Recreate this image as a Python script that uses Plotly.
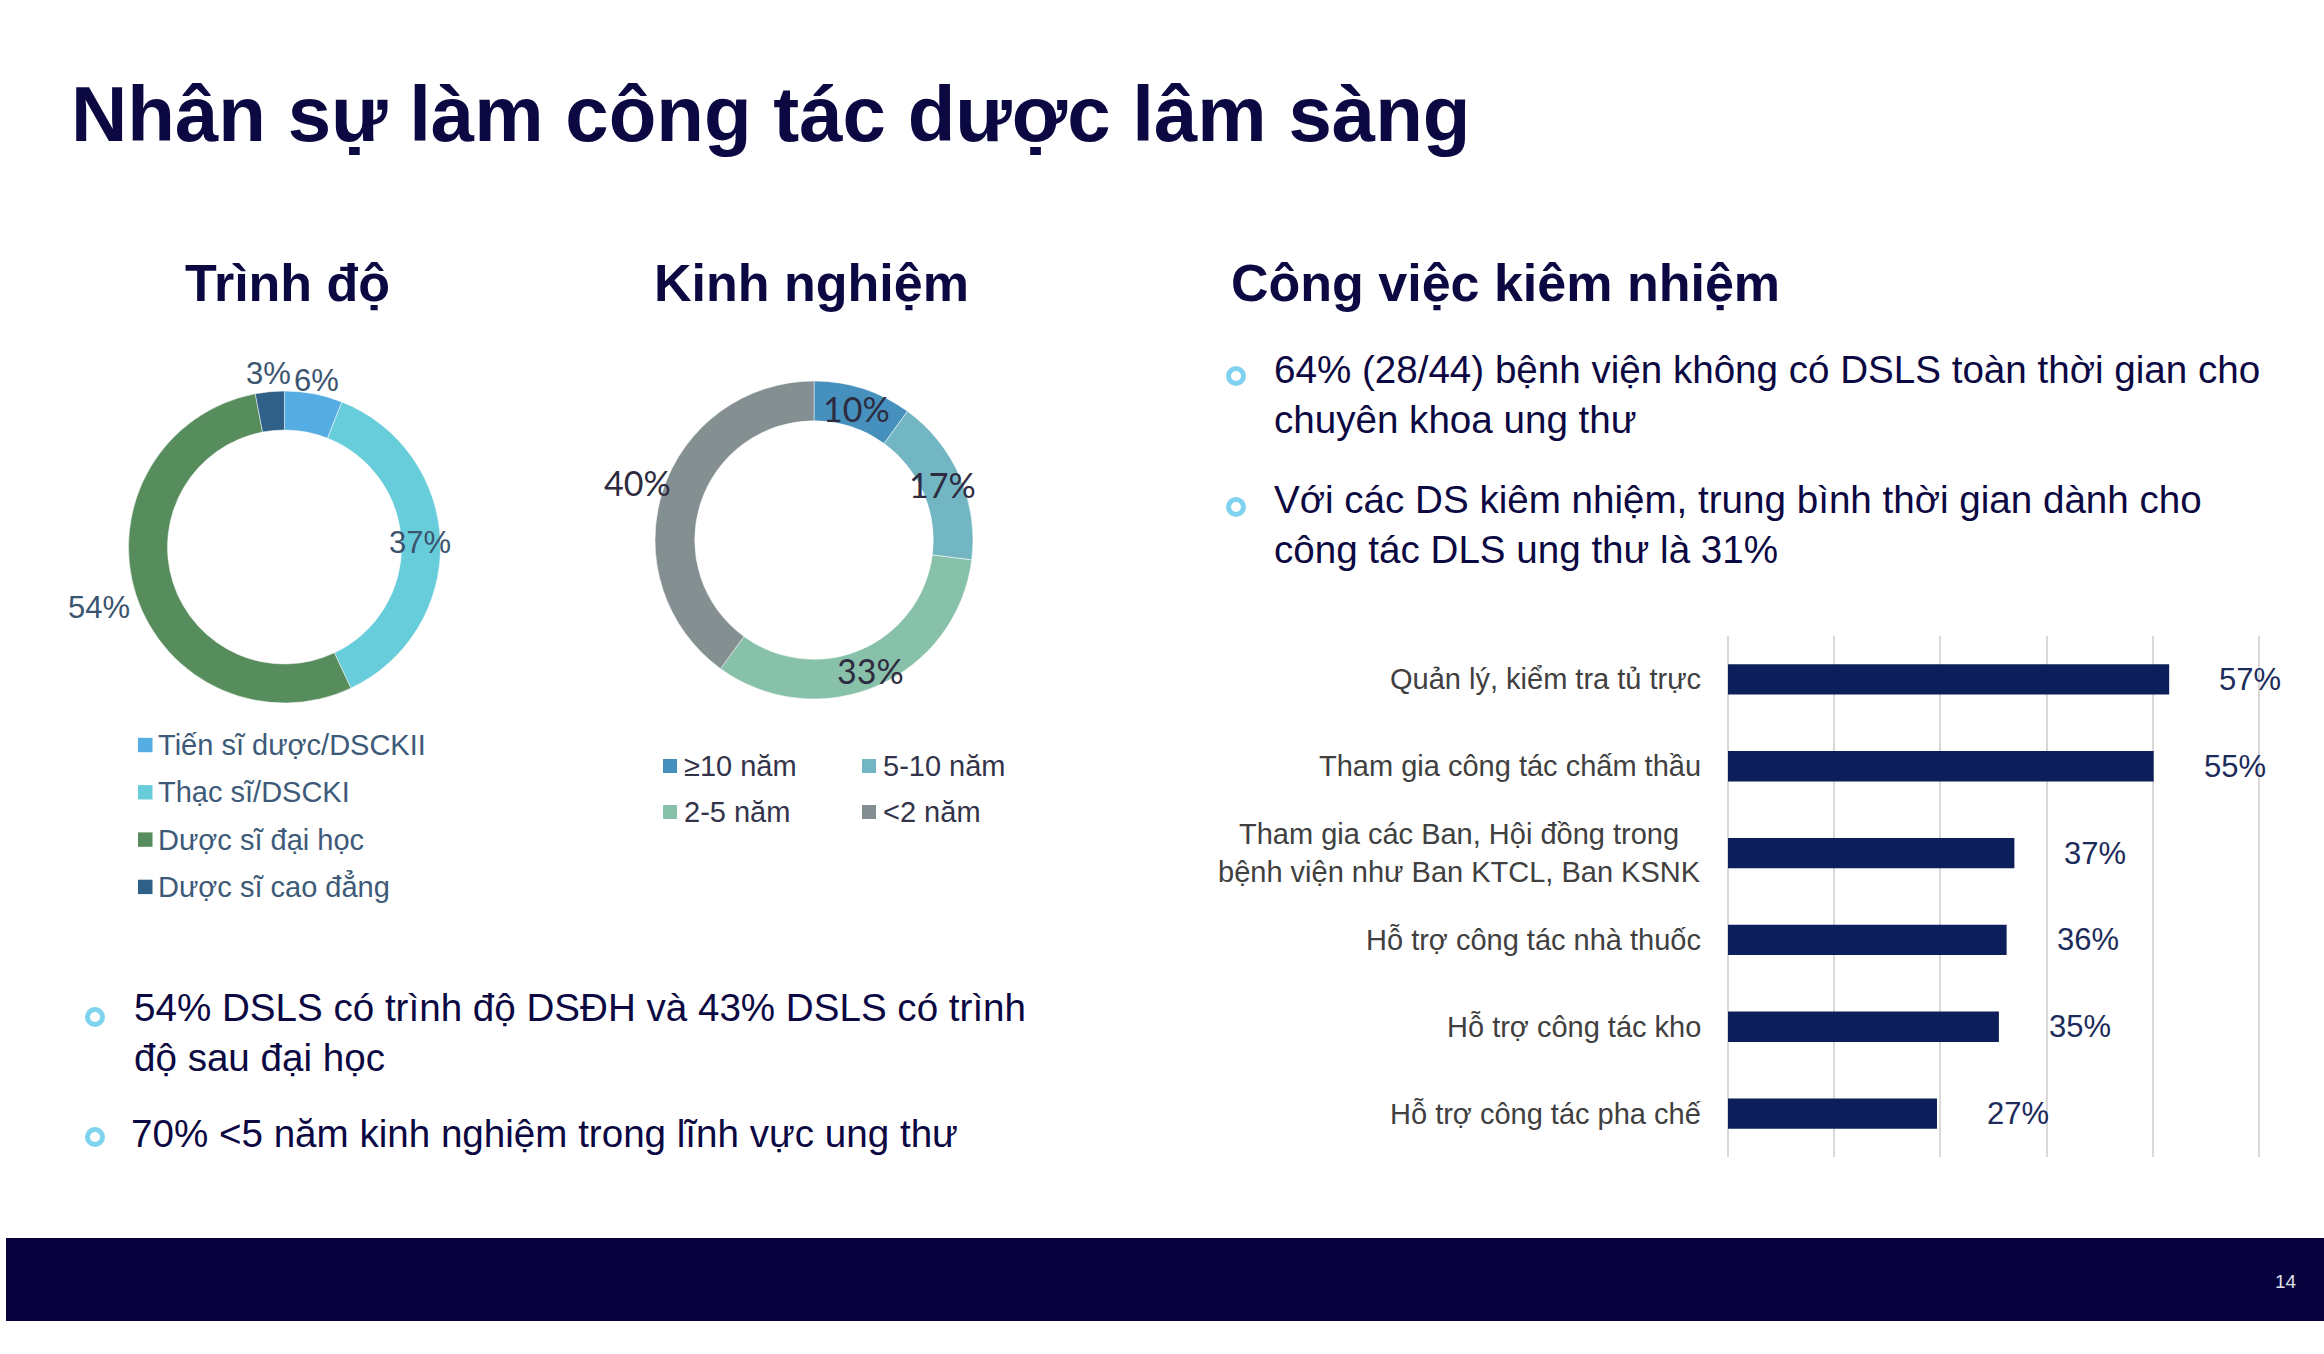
import math
import plotly.graph_objects as go

W, H = 2324, 1354

# ---- data ----
title = "Nhân sự làm công tác dược lâm sàng"

edu_title = "Trình độ"
edu_labels = ["Tiến sĩ dược/DSCKII", "Thạc sĩ/DSCKI", "Dược sĩ đại học", "Dược sĩ cao đẳng"]
edu_values = [6, 37, 54, 3]

exp_title = "Kinh nghiệm"
exp_labels = ["≥10 năm", "5-10 năm", "2-5 năm", "<2 năm"]
exp_values = [10, 17, 33, 40]

task_title = "Công việc kiêm nhiệm"
task_labels = [
    "Quản lý, kiểm tra tủ trực",
    "Tham gia công tác chấm thầu",
    "Tham gia các Ban, Hội đồng trong<br>bệnh viện như Ban KTCL, Ban KSNK",
    "Hỗ trợ công tác nhà thuốc",
    "Hỗ trợ công tác kho",
    "Hỗ trợ công tác pha chế",
]
task_values = [57, 55, 37, 36, 35, 27]

left_notes = [
    "54% DSLS có trình độ DSĐH và 43% DSLS có trình<br>độ sau đại học",
    "70% <5 năm kinh nghiệm trong lĩnh vực ung thư",
]
right_notes = [
    "64% (28/44) bệnh viện không có DSLS toàn thời gian cho<br>chuyên khoa ung thư",
    "Với các DS kiêm nhiệm, trung bình thời gian dành cho<br>công tác DLS ung thư là 31%",
]
page_no = "14"

# ---- styles ----
FONT = "Liberation Sans, Arial, sans-serif"
NAVY = "#0b0842"
edu_colors = ["#55ade3", "#68cdda", "#578c5c", "#2f6088"]
exp_colors = ["#4690bd", "#72b6c3", "#88c1a9", "#838f90"]
BAR = "#0c1f5a"


def px(x):
    return x / W


def py(y):
    return 1 - y / H


fig = go.Figure()

# donuts: (cx, cy, r) in page pixels
donuts = [
    (edu_labels, edu_values, edu_colors, (284.5, 547, 156)),
    (exp_labels, exp_values, exp_colors, (814, 540, 159)),
]
for labels, values, colors, (cx, cy, r) in donuts:
    fig.add_trace(go.Pie(
        labels=labels, values=values, sort=False, direction="clockwise",
        rotation=0, hole=0.75, textinfo="none", hoverinfo="label+percent",
        showlegend=False,
        marker=dict(colors=colors, line=dict(color="white", width=0.5)),
        domain=dict(x=[px(cx - r), px(cx + r)], y=[py(cy + r), py(cy - r)]),
    ))

annotations = []
shapes = []


def donut_labels(values, center, radii, font):
    cx, cy, _ = center
    total = sum(values)
    cum = 0
    for v, rad in zip(values, radii):
        mid = (cum + v / 2) / total * 2 * math.pi
        cum += v
        x = cx + rad * math.sin(mid)
        y = cy - rad * math.cos(mid)
        annotations.append(dict(
            x=px(x), y=py(y), xref="paper", yref="paper", showarrow=False,
            text=f"{round(v / total * 100)}%", font=font,
            xanchor="center", yanchor="middle"))


donut_labels(edu_values, donuts[0][3], [170, 136, 195, 174],
             dict(family=FONT, size=31, color="#3b5570"))
donut_labels(exp_values, donuts[1][3], [138, 140, 142, 186],
             dict(family="Lato, " + FONT, size=34, color="#2e2b40"))

# legends drawn as swatch + text
for i, (lab, col) in enumerate(zip(edu_labels, edu_colors)):
    yc = 745 + i * 47.3
    shapes.append(dict(type="rect", xref="paper", yref="paper",
                       x0=px(138), x1=px(152.5), y0=py(yc + 7.2), y1=py(yc - 7.2),
                       fillcolor=col, line=dict(width=0)))
    annotations.append(dict(x=px(156), y=py(yc), xref="paper", yref="paper",
                            showarrow=False, text=lab, xanchor="left", yanchor="middle",
                            font=dict(family=FONT, size=29, color="#3d5a78")))

for i, (lab, col) in enumerate(zip(exp_labels, exp_colors)):
    sx = [663, 862][i % 2]
    yc = [766, 812][i // 2]
    shapes.append(dict(type="rect", xref="paper", yref="paper",
                       x0=px(sx), x1=px(sx + 14), y0=py(yc + 7), y1=py(yc - 7),
                       fillcolor=col, line=dict(width=0)))
    annotations.append(dict(x=px(sx + 19), y=py(yc), xref="paper", yref="paper",
                            showarrow=False, text=lab, xanchor="left", yanchor="middle",
                            font=dict(family=FONT, size=29, color="#33334a")))

# bar chart
fig.add_trace(go.Bar(
    x=task_values, y=task_labels, orientation="h", width=0.35,
    marker=dict(color=BAR, line=dict(width=0)), showlegend=False,
    hoverinfo="x+y", xaxis="x", yaxis="y",
))
for lab, v in zip(task_labels, task_values):
    annotations.append(dict(x=0, y=lab, xref="x", yref="y", showarrow=False,
                            text=lab, xanchor="right", yanchor="middle", align="center",
                            xshift=-25, font=dict(family=FONT, size=29, color="#404040")))
    annotations.append(dict(x=v, y=lab, xref="x", yref="y", showarrow=False,
                            text=f"{v}%", xanchor="left", yanchor="middle",
                            xshift=48, font=dict(family=FONT, size=31, color="#1c2b5a")))

# titles
annotations.append(dict(x=px(69), y=py(114), xref="paper", yref="paper", showarrow=False,
                        text=f"<b>{title}</b>", xanchor="left", yanchor="middle",
                        font=dict(family=FONT, size=78, color=NAVY)))
for txt, x, anchor in [(edu_title, 287.5, "center"), (exp_title, 811.5, "center"),
                       (task_title, 1229, "left")]:
    annotations.append(dict(x=px(x), y=py(283), xref="paper", yref="paper",
                            showarrow=False, text=f"<b>{txt}</b>", xanchor=anchor,
                            yanchor="middle",
                            font=dict(family=FONT, size=52, color=NAVY)))

# bullet notes
notes = [
    (left_notes[0], 132, 1032, 95, 1017),
    (left_notes[1], 129, 1133, 95, 1137),
    (right_notes[0], 1272, 395, 1236, 376),
    (right_notes[1], 1272, 524, 1236, 507),
]
for txt, tx, ty, bx, by in notes:
    annotations.append(dict(x=px(tx), y=py(ty), xref="paper", yref="paper",
                            showarrow=False, text=txt, xanchor="left", yanchor="middle",
                            align="left", font=dict(family=FONT, size=38.6, color=NAVY)))
    shapes.append(dict(type="circle", xref="paper", yref="paper",
                       x0=px(bx - 7.5), x1=px(bx + 7.5), y0=py(by + 7.5), y1=py(by - 7.5),
                       line=dict(color="#7fd3ee", width=5), fillcolor="white"))

# footer band
shapes.append(dict(type="rect", xref="paper", yref="paper", layer="below",
                   x0=px(6), x1=1, y0=py(1321), y1=py(1238),
                   fillcolor="#06003d", line=dict(width=0)))
annotations.append(dict(x=px(2286), y=py(1281), xref="paper", yref="paper",
                        showarrow=False, text=page_no, xanchor="center", yanchor="middle",
                        font=dict(family=FONT, size=19, color="#e0e0e8")))

fig.update_layout(
    width=W, height=H, margin=dict(l=0, r=0, t=0, b=0),
    paper_bgcolor="white", plot_bgcolor="white",
    font=dict(family=FONT),
    xaxis=dict(domain=[px(1728), px(2260.5)], range=[0, 68.8], dtick=13.72, tick0=0,
               showgrid=True, gridcolor="#d9d9d9", gridwidth=2,
               zeroline=True, zerolinecolor="#d9d9d9", zerolinewidth=2,
               showticklabels=False, ticks="", fixedrange=True),
    yaxis=dict(domain=[py(1157), py(636)], autorange="reversed",
               showgrid=False, zeroline=False, showticklabels=False, ticks="",
               fixedrange=True),
    annotations=annotations, shapes=shapes,
)

# drop the default body margin so the figure fills the window exactly
fig.write_html(
    "out.html",
    config={"displayModeBar": False},
    post_script="document.body.style.margin='0';document.body.style.overflow='hidden';",
)
